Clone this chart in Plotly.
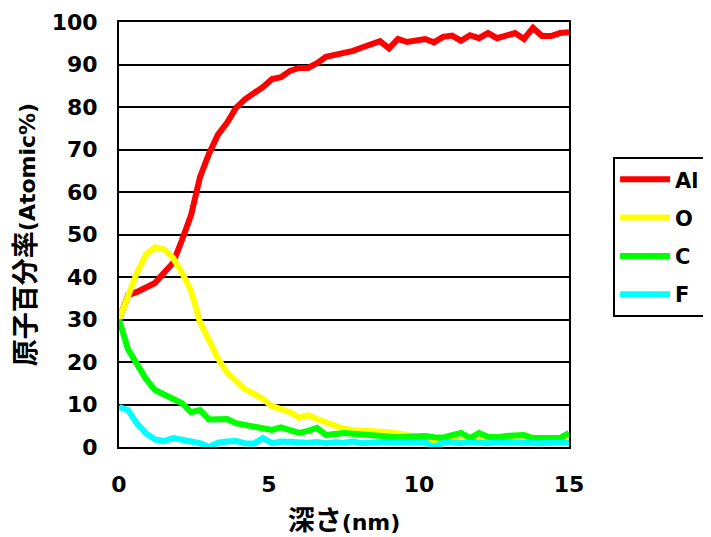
import plotly.graph_objects as go

depth_nm = [round(i * 0.3, 1) for i in range(51)]

al = [30, 35.7, 36.5, 37.5, 38.6, 41, 43.3, 48.7, 54.5, 63.5,
      69, 73.5, 76.3, 79.8, 81.8, 83.3, 84.7, 86.6, 87, 88.5,
      89.2, 89.2, 90.3, 91.8, 92.2, 92.6, 93.2, 94, 94.6, 95.5,
      93.8, 96, 95.3, 95.8, 96, 95.2, 96.5, 96.8, 95.6, 96.9,
      96.2, 97.4, 96.2, 96.8, 97.4, 96, 98.6, 96.7, 96.7, 97.4, 97.6]

o = [30, 36, 41, 45.3, 47, 46.5, 44.5, 41, 36.8, 29.4,
     25, 20.8, 17.5, 15.5, 13.6, 12.5, 11.3, 9.6, 8.8, 8.2,
     6.9, 7.5, 6.6, 5.9, 5, 4.3, 4, 3.9, 3.8, 3.9,
     3.5, 3.2, 2.8, 2.3, 1.9, 1.6, 1.5, 1.4, 1.6, 1.3,
     1.5, 1.2, 1.4, 1.3, 1.5, 1.2, 1.3, 1.4, 1.2, 1.3, 1.5]

c = [30, 23, 19.5, 16, 13.4, 12.3, 11.3, 10.3, 8.2, 8.7,
     6.5, 6.5, 6.6, 5.6, 5.2, 4.7, 4.2, 4, 4.6, 4,
     3.3, 3.8, 4.5, 2.8, 3, 3.3, 3.1, 2.9, 2.8, 2.6,
     2.4, 2.3, 2.4, 2.5, 2.6, 2.3, 2.2, 2.8, 3.3, 2.1,
     3.3, 2.4, 2.3, 2.6, 2.7, 2.8, 2.1, 2.2, 2.1, 2.1, 3.3]

f = [9.4, 8.7, 5.5, 3.2, 1.8, 1.4, 2.1, 1.6, 1.3, 0.9,
     0, 1, 1.3, 1.4, 0.9, 0.8, 2.1, 0.9, 1.3, 1.1,
     0.9, 1.0, 1.2, 0.9, 1.1, 1.0, 1.3, 0.9, 1.0, 1.1,
     0.9, 1.2, 1.0, 0.9, 1.1, 0, 1.0, 1.1, 0.9, 1.2,
     1.0, 0.9, 1.1, 1.0, 0.9, 1.1, 1.0, 0.9, 1.0, 1.1, 1.0]

series_names = ["Al", "O", "C", "F"]
series_values = [al, o, c, f]
series_colors = ["#FF0000", "#FFFF00", "#00FF00", "#00FFFF"]

x_ticks = [0, 5, 10, 15]
y_ticks = list(range(0, 101, 10))

FONT = "DejaVu Sans, Noto Sans CJK JP, sans-serif"
CJK = '<span style="font-size:27px">{}</span>'

fig = go.Figure()
for name, vals, col in zip(series_names, series_values, series_colors):
    fig.add_trace(go.Scatter(x=depth_nm, y=vals, mode="lines", name=name,
                             legendgroup=name,
                             line=dict(color=col, width=6)))

fig.update_layout(
    width=703, height=529,
    margin=dict(l=111, r=142, t=14, b=90, autoexpand=False),
    paper_bgcolor="white", plot_bgcolor="white",
    font=dict(family=FONT, size=22, color="black", weight="bold"),
    showlegend=True,
    legend=dict(x=1.098, y=0.682, xanchor="left", yanchor="top",
                bordercolor="black", borderwidth=2, bgcolor="white",
                font=dict(family=FONT, size=21, color="black", weight="bold"),
                itemwidth=50, tracegroupgap=8, traceorder="grouped"),
    xaxis=dict(range=[0, 15], tickvals=x_ticks, showgrid=False, zeroline=False,
               showline=True, linecolor="black", linewidth=2, mirror=True,
               ticks="", ticklabelstandoff=17, automargin=False,
               tickfont=dict(family=FONT, size=22, weight="bold"),
               title=dict(text=CJK.format("深さ") + "(nm)", standoff=18,
                          font=dict(family=FONT, size=22, weight="bold"))),
    yaxis=dict(range=[0, 100], tickvals=y_ticks, showgrid=True, gridcolor="black",
               gridwidth=2, zeroline=False,
               showline=True, linecolor="black", linewidth=2, mirror=True,
               ticks="", ticklabelstandoff=15, automargin=False,
               tickfont=dict(family=FONT, size=22, weight="bold"),
               title=dict(text=CJK.format("原子百分率") + "(Atomic%)", standoff=10,
                          font=dict(family=FONT, size=22, weight="bold"))),
)

fig.write_html("out.html")
